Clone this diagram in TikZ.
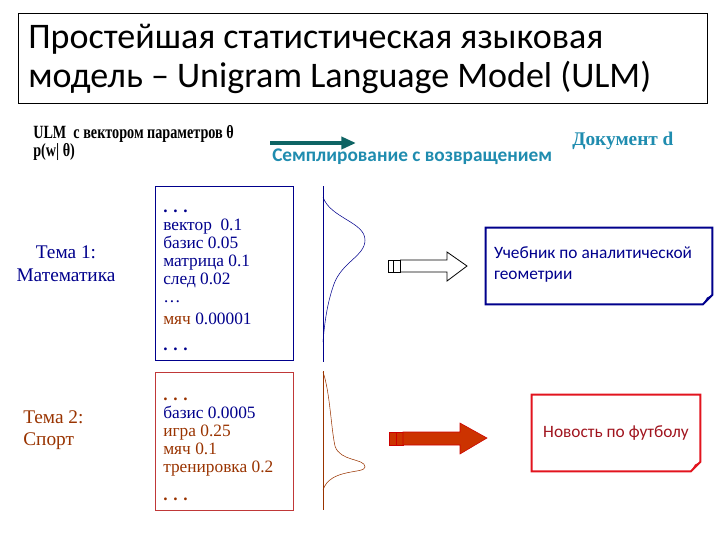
\documentclass[tikz,border=0pt]{standalone}
\usepackage{fontspec}
\setmainfont{Liberation Serif}
\newfontfamily\calibfont{Carlito}
\newfontfamily\narrowserif[FakeStretch=0.76]{Liberation Serif}
\usetikzlibrary{arrows.meta}
\definecolor{navy}{RGB}{0,0,140}
\definecolor{rust}{RGB}{153,51,0}
\definecolor{boxred}{RGB}{192,56,56}
\definecolor{skyteal}{RGB}{31,140,175}
\definecolor{darkteal}{RGB}{14,100,100}
\definecolor{docred}{RGB}{226,20,30}
\definecolor{textred}{RGB}{160,20,30}
\definecolor{arrowred}{RGB}{204,51,0}
\tikzset{
  listbox/.style={draw, minimum width=103.5pt, inner sep=0pt},
  wordlist/.style={anchor=north west, align=left, inner sep=0pt, font=\fontsize{13}{13.5}\selectfont},
  topic/.style={align=left, inner sep=0pt, font=\fontsize{14.5}{17}\selectfont},
  docbox/.style={minimum height=57pt, inner sep=0pt},
  header/.style={anchor=west, inner sep=0pt, font=\narrowserif\bfseries\fontsize{14}{16}\selectfont},
}
\begin{document}
\begin{tikzpicture}[x=0.75pt,y=-0.75pt]
\useasboundingbox (0,0) rectangle (720,540);
% title
\node[draw, line width=1pt, anchor=north west, minimum width=516.75pt, minimum height=67.5pt] (titlebox) at (18,13) {};
\node[anchor=west, align=left, inner sep=0pt, font=\calibfont\fontsize{27}{29.5}\selectfont]
  (title) at ([xshift=7.5pt]titlebox.west) {Простейшая статистическая языковая\\модель – Unigram Language Model (ULM)};
% header
\node[header] (ulm) at (33,134) {ULM\ \ с вектором параметров θ};
\node[header] (pw) at (33,152) {p(w| θ)};
\coordinate (sampleL) at (270,143);
\coordinate (sampleR) at (356,143);
\draw[darkteal, line width=3.6pt, -{Triangle[length=11pt,width=9pt]}] (sampleL) -- (sampleR);
\node[anchor=west, inner sep=0pt, text=skyteal, font=\calibfont\bfseries\fontsize{14.5}{16}\selectfont] (sample) at (272,157) {Семплирование с возвращением};
\node[anchor=west, inner sep=0pt, text=skyteal, font=\bfseries\fontsize{14.5}{16}\selectfont] (doc) at (572,141) {Документ d};
% topic 1
\node[topic, align=center, text=navy] (topic1) at (66,264) {Тема 1:\\Математика};
\node[listbox, draw=navy, minimum height=130.5pt] (box1) at (224,273) {};
\node[wordlist, text=navy] (words1) at (163,210) {\textbf{. . .}\\вектор\ \ 0.1\\базис 0.05\\матрица 0.1\\след 0.02\\…\\[3pt]\textcolor{rust}{мяч} 0.00001\\[6pt]\textbf{. . .}};
\coordinate (axis1t) at (323,186);
\coordinate (axis1b) at (323,362);
\draw[navy] (axis1t) -- (axis1b);
\draw[navy] (323,197) .. controls (330,218) and (365,222) .. (365,240)
  .. controls (365,256) and (342,262) .. (334,284)
  .. controls (326,306) and (324,330) .. (323,342);
\draw[line width=0.6pt] (388,260) rectangle (393,272) (393,260) rectangle (400,272);
\draw[line width=0.6pt] (400,260) -- (447,260) -- (447,252) -- (467,266) -- (447,281) -- (447,272) -- (400,272);
\node[docbox, minimum width=169.5pt] (doc1) at (599,266) {};
\node[anchor=north west, align=left, inner sep=0pt, text=navy, font=\calibfont\fontsize{13}{15.5}\selectfont]
  (doc1text) at ([xshift=6pt,yshift=-14pt]doc1.north west) {Учебник по аналитической\\геометрии};
\draw[navy, line width=1.5pt] (doc1.north west) -- (doc1.north east) -- ([yshift=7pt]doc1.south east)
  -- ([xshift=-7pt]doc1.south east) -- (doc1.south west) -- cycle;
\fill[navy] ([yshift=7pt]doc1.south east) -- ([xshift=-7pt]doc1.south east) -- ([xshift=-4pt,yshift=5pt]doc1.south east) -- cycle;
% topic 2
\node[topic, anchor=west, text=rust] (topic2) at (23,430) {Тема 2:\\Спорт};
\node[listbox, draw=boxred, minimum height=103.5pt] (box2) at (224,441) {};
\node[wordlist, text=rust] (words2) at (163,398) {\textbf{. . .}\\\textcolor{navy}{базис 0.0005}\\игра 0.25\\мяч 0.1\\тренировка 0.2\\[7pt]\textbf{. . .}};
\coordinate (axis2t) at (323,371);
\coordinate (axis2b) at (323,510);
\draw[rust] (axis2t) -- (axis2b);
\draw[rust] (323,372) .. controls (330,392) and (331,428) .. (335,446)
  .. controls (340,462) and (365,458) .. (365,467)
  .. controls (365,474) and (330,468) .. (323,490);
\draw[red!80!black, fill=arrowred] (389,432) rectangle (396,445) (396,432) rectangle (403,445);
\draw[red!80!black, fill=arrowred] (403,432) -- (460,432) -- (460,423) -- (487,438) -- (460,454) -- (460,445) -- (403,445) -- cycle;
\node[docbox, minimum width=126pt, text=textred,
  font=\calibfont\fontsize{13}{15.5}\selectfont] (doc2) at (616,433) {Новость по футболу};
\draw[docred, line width=1.5pt] (doc2.north west) -- (doc2.north east) -- ([yshift=7pt]doc2.south east)
  -- ([xshift=-7pt]doc2.south east) -- (doc2.south west) -- cycle;
\fill[docred] ([yshift=7pt]doc2.south east) -- ([xshift=-7pt]doc2.south east) -- ([xshift=-4pt,yshift=5pt]doc2.south east) -- cycle;
\end{tikzpicture}
\end{document}
